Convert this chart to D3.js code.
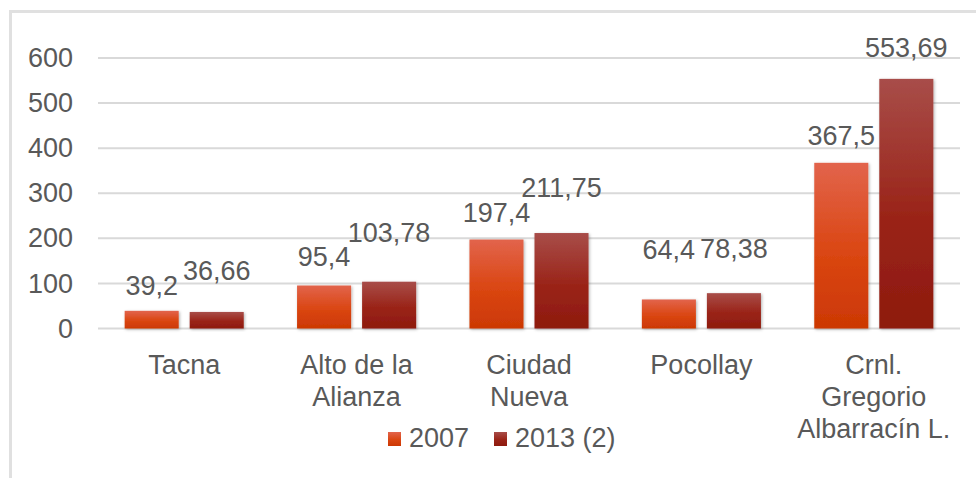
<!DOCTYPE html>
<html>
<head>
<meta charset="utf-8">
<script src="https://cdn.jsdelivr.net/npm/d3@7"></script>
<style>
  body { margin: 0; background: #fff; }
  svg { display: block; font-family: "Liberation Sans", Arial, sans-serif; }
</style>
</head>
<body>
<svg id="chart"></svg>
<script>
// data
const districts = [
  ["Tacna"],
  ["Alto de la", "Alianza"],
  ["Ciudad", "Nueva"],
  ["Pocollay"],
  ["Crnl.", "Gregorio", "Albarracín L."]
];
const seriesNames = ["2007", "2013 (2)"];
const values2007 = [39.2, 95.4, 197.4, 64.4, 367.5];
const values2013 = [36.66, 103.78, 211.75, 78.38, 553.69];
const valueLabels2007 = ["39,2", "95,4", "197,4", "64,4", "367,5"];
const valueLabels2013 = ["36,66", "103,78", "211,75", "78,38", "553,69"];
const yTicks = [0, 100, 200, 300, 400, 500, 600];

// label lift above bar top (layout, as placed in original)
const lift2007 = [16, 19, 18, 40, 18];
const lift2013 = [32, 40, 36, 35, 22];

const width = 976, height = 478;
const textColor = "#595959";
const fs = 27;

const svg = d3.select("#chart")
  .attr("width", width)
  .attr("height", height);

// gradients + shadow
const defs = svg.append("defs");
const grads = [
  { id: "g2007", top: "#e2644c", mid: "#da4612", bot: "#cc3804" },
  { id: "g2013", top: "#a84d49", mid: "#9a2418", bot: "#8e1a0e" }
];
grads.forEach(g => {
  const lg = defs.append("linearGradient").attr("id", g.id)
    .attr("x1", 0).attr("y1", 0).attr("x2", 0).attr("y2", 1);
  lg.append("stop").attr("offset", "0%").attr("stop-color", g.top);
  lg.append("stop").attr("offset", "55%").attr("stop-color", g.mid);
  lg.append("stop").attr("offset", "100%").attr("stop-color", g.bot);
});
defs.append("filter").attr("id", "shadow")
  .attr("x", "-20%").attr("y", "-20%").attr("width", "140%").attr("height", "140%")
  .append("feDropShadow")
  .attr("dx", 1).attr("dy", 1).attr("stdDeviation", 1.5)
  .attr("flood-color", "#000").attr("flood-opacity", 0.3);

// frame
svg.append("path")
  .attr("d", `M10.5,${height} L10.5,11.5 L${width},11.5`)
  .attr("fill", "none")
  .attr("stroke", "#e0e0e0")
  .attr("stroke-width", 3);

const y = d3.scaleLinear().domain([0, 600]).range([328.5, 58]);
const x0 = d3.scaleBand().domain(d3.range(districts.length)).range([98, 960]);
const x1 = d3.scaleBand().domain(seriesNames).range([0, x0.bandwidth()])
  .paddingInner(0.169).paddingOuter(0.41);

// grid
svg.append("g")
  .selectAll("line")
  .data(yTicks)
  .join("line")
    .attr("x1", 98).attr("x2", 960)
    .attr("y1", d => y(d)).attr("y2", d => y(d))
    .attr("stroke", "#d9d9d9")
    .attr("stroke-width", 2);

// y axis labels
const yAxis = d3.axisLeft(y).tickValues(yTicks).tickSize(0).tickPadding(0);
const yg = svg.append("g").attr("transform", "translate(73,0)").call(yAxis);
yg.select(".domain").remove();
yg.selectAll("text")
  .attr("fill", textColor)
  .style("font-size", fs + "px")
  .style("font-family", "'Liberation Sans', Arial, sans-serif");

// bars
const rows = districts.map((d, i) => ({
  i,
  vals: [
    { s: seriesNames[0], v: values2007[i], lab: valueLabels2007[i], lift: lift2007[i], fill: "url(#g2007)" },
    { s: seriesNames[1], v: values2013[i], lab: valueLabels2013[i], lift: lift2013[i], fill: "url(#g2013)" }
  ]
}));

const groups = svg.append("g")
  .selectAll("g")
  .data(rows)
  .join("g")
    .attr("transform", d => `translate(${x0(d.i)},0)`);

groups.selectAll("rect")
  .data(d => d.vals)
  .join("rect")
    .attr("x", d => x1(d.s))
    .attr("width", x1.bandwidth())
    .attr("y", d => y(d.v))
    .attr("height", d => y(0) - y(d.v))
    .attr("fill", d => d.fill)
    .attr("filter", "url(#shadow)");

groups.selectAll("text.val")
  .data(d => d.vals)
  .join("text")
    .attr("class", "val")
    .attr("x", d => x1(d.s) + x1.bandwidth() / 2)
    .attr("y", d => y(d.v) - d.lift)
    .attr("text-anchor", "middle")
    .attr("fill", textColor)
    .style("font-size", fs + "px")
    .text(d => d.lab);

// category labels
const cat = svg.append("g")
  .selectAll("text")
  .data(districts)
  .join("text")
    .attr("x", (d, i) => x0(i) + x0.bandwidth() / 2)
    .attr("y", 374)
    .attr("text-anchor", "middle")
    .attr("fill", textColor)
    .style("font-size", fs + "px");
cat.selectAll("tspan")
  .data(d => d)
  .join("tspan")
    .attr("x", function() { return d3.select(this.parentNode).attr("x"); })
    .attr("dy", (d, i) => i === 0 ? 0 : 32)
    .text(d => d);

// legend
const legendX = [388, 494];
const legend = svg.append("g")
  .selectAll("g")
  .data(seriesNames)
  .join("g")
    .attr("transform", (d, i) => `translate(${legendX[i]},432)`);
legend.append("rect")
  .attr("width", 13).attr("height", 14)
  .attr("fill", (d, i) => `url(#${grads[i].id})`);
legend.append("text")
  .attr("x", 21).attr("y", 15)
  .attr("fill", textColor)
  .style("font-size", fs + "px")
  .text(d => d);
</script>
</body>
</html>
